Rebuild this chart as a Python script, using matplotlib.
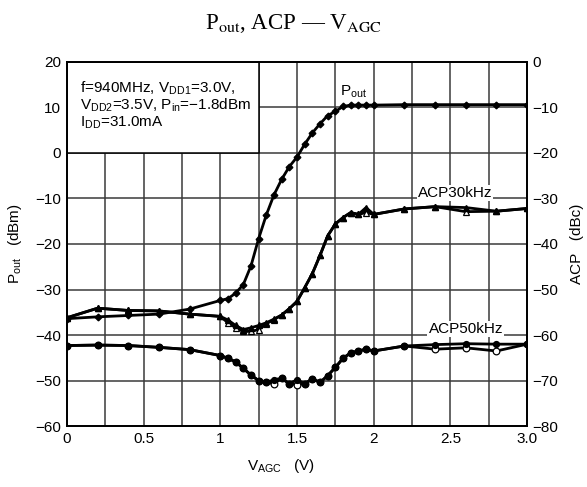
import numpy as np
import matplotlib
matplotlib.use("Agg")
import matplotlib.pyplot as plt
from matplotlib.patches import Rectangle

plt.rcParams['font.family'] = ['Liberation Sans', 'DejaVu Sans']
plt.rcParams['mathtext.fontset'] = 'custom'
plt.rcParams['mathtext.rm'] = 'Liberation Sans'
plt.rcParams['mathtext.it'] = 'Liberation Sans'

# V_AGC (V) sample points
v_pout = [0, 0.2, 0.4, 0.6, 0.8, 1.0, 1.05, 1.1, 1.15, 1.2, 1.25, 1.3, 1.35, 1.4,
          1.45, 1.5, 1.55, 1.6, 1.65, 1.7, 1.75, 1.8, 1.85, 1.9, 1.95, 2.0,
          2.2, 2.4, 2.6, 2.8, 3.0]
pout = [-36.4, -36.0, -35.7, -35.4, -34.3, -32.4, -32.0, -30.8, -28.9, -24.8, -18.8,
        -13.6, -9.2, -5.8, -3.0, -0.9, 1.9, 4.4, 6.4, 8.2, 9.1, 10.2, 10.5, 10.5,
        10.5, 10.5, 10.6, 10.6, 10.6, 10.6, 10.6]

v_acp = [0, 0.2, 0.4, 0.6, 0.8, 1.0, 1.05, 1.1, 1.15, 1.2, 1.25, 1.3, 1.35, 1.4,
         1.45, 1.5, 1.55, 1.6, 1.65, 1.7, 1.75, 1.8, 1.85, 1.9, 1.95, 2.0,
         2.2, 2.4, 2.6, 2.8, 3.0]
# ACP values in dBc (right axis)
acp30_a = [-56.2, -54.1, -54.6, -54.7, -55.4, -55.9, -56.7, -57.9, -58.8, -58.4, -57.9,
           -57.3, -56.5, -55.6, -54.2, -52.6, -49.6, -46.5, -42.5, -38.2, -35.6, -34.2,
           -33.1, -33.5, -32.0, -33.5, -32.3, -31.8, -32.0, -32.8, -32.2]
acp30_b = [-56.2, -54.1, -54.6, -54.7, -55.4, -55.9, -57.3, -58.4, -59.2, -59.2, -58.8,
           -57.5, -56.6, -55.6, -54.2, -52.6, -49.6, -46.5, -42.5, -38.2, -35.6, -34.2,
           -33.1, -33.5, -33.1, -33.5, -32.3, -31.8, -32.9, -32.8, -32.2]
acp50_a = [-62.3, -62.2, -62.3, -62.7, -63.2, -64.5, -65.1, -65.9, -67.3, -68.8, -70.0,
           -70.4, -69.8, -69.5, -70.7, -69.8, -70.7, -69.6, -70.4, -68.9, -67.1, -65.1,
           -63.9, -63.5, -63.1, -63.5, -62.4, -62.1, -61.9, -62.0, -62.0]
acp50_b = [-62.3, -62.2, -62.3, -62.7, -63.2, -64.5, -65.1, -65.9, -67.3, -68.8, -70.0,
           -70.4, -70.7, -69.5, -70.7, -70.9, -70.7, -69.6, -70.4, -68.9, -67.1, -65.1,
           -63.9, -63.5, -63.1, -63.5, -62.4, -63.1, -62.8, -63.5, -62.0]

fig = plt.figure(figsize=(5.87, 4.87), dpi=100)
ax = fig.add_axes([0.114, 0.125, 0.784, 0.748])
ax2 = ax.twinx()

ax.set_xlim(0, 3.0)
ax.set_ylim(-60, 20)
ax2.set_ylim(-80, 0)

# grid
for xv in np.arange(0.25, 3.0, 0.25):
    ax.axvline(xv, color='#3a3a3a', lw=1.1, zorder=1)
for yv in range(-50, 20, 10):
    ax.axhline(yv, color='#3a3a3a', lw=1.1, zorder=1)

# condition box covers the grid at top left
ax.add_patch(Rectangle((0, 0), 1.25, 20, facecolor='white', edgecolor='black',
                       lw=1.1, zorder=2))
ax.text(0.085, 14.3, 'f=940MHz, V$_{\\mathrm{DD1}}$=3.0V,', fontsize=11, va='center', zorder=3)
ax.text(0.085, 10.4, 'V$_{\\mathrm{DD2}}$=3.5V, P$_{\\mathrm{in}}$=\u22121.8dBm', fontsize=11,
        va='center', zorder=3)
ax.text(0.085, 6.6, 'I$_{\\mathrm{DD}}$=31.0mA', fontsize=11, va='center', zorder=3)

lk = dict(color='black', lw=2.0, zorder=5)
ax.plot(v_pout, pout, marker='D', ms=3.4, mfc='black', mec='black', **lk)
ax2.plot(v_acp, acp30_b, marker='^', ms=4.8, mfc='white', mec='black', mew=0.9, **lk)
ax2.plot(v_acp, acp30_a, marker='^', ms=4.2, mfc='black', mec='black', **lk)
ax2.plot(v_acp, acp50_b, marker='o', ms=4.8, mfc='white', mec='black', mew=0.9, **lk)
ax2.plot(v_acp, acp50_a, marker='o', ms=4.2, mfc='black', mec='black', **lk)

# curve labels
ax.text(1.87, 11.6, 'P$_{\\mathrm{out}}$', fontsize=11, ha='center', va='bottom', zorder=6)
ax.text(2.53, -10.3, 'ACP30kHz', fontsize=11, ha='center', va='bottom', zorder=6,
        bbox=dict(facecolor='white', edgecolor='none', pad=0.8))
ax.text(2.6, -40.3, 'ACP50kHz', fontsize=11, ha='center', va='bottom', zorder=6,
        bbox=dict(facecolor='white', edgecolor='none', pad=0.8))

# ticks
ax.set_xticks([0, 0.5, 1, 1.5, 2, 2.5, 3.0])
ax.set_xticklabels(['0', '0.5', '1', '1.5', '2', '2.5', '3.0'])
ax.set_yticks(range(-60, 21, 10))
ax.set_yticklabels([str(v).replace('-', '\u2212') for v in range(-60, 21, 10)])
ax2.set_yticks(range(-80, 1, 10))
ax2.set_yticklabels([str(v).replace('-', '\u2212') for v in range(-80, 1, 10)])
for a in (ax, ax2):
    a.tick_params(length=0, labelsize=11, pad=4)
    for s in a.spines.values():
        s.set_linewidth(1.3)
        s.set_color('black')

ax.set_xlabel('V$_{\\mathrm{AGC}}$   (V)', fontsize=11)
ax.xaxis.set_label_coords(0.465, -0.085)
ax.set_ylabel('P$_{\\mathrm{out}}$   (dBm)', fontsize=11, labelpad=8)
ax2.set_ylabel('ACP   (dBc)', fontsize=11, labelpad=8)

fig.text(0.5, 0.952, 'P$_{\\mathrm{out}}$, ACP \u2014 V$_{\\mathrm{AGC}}$', ha='center', va='center',
         fontsize=16.5, family='Liberation Serif', math_fontfamily='stix')

fig.savefig('out.png', dpi=100, facecolor='white')
